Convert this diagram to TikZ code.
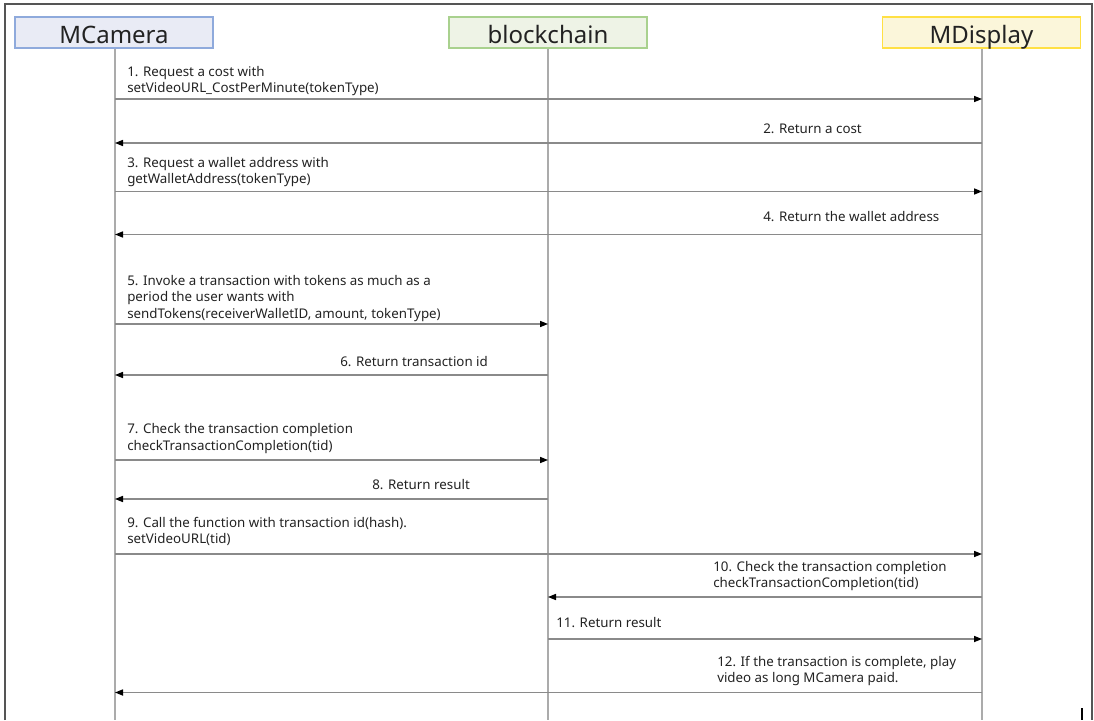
\documentclass[tikz,border=0pt]{standalone}
\usepackage{fontspec}
\setmainfont{Noto Sans}
\usetikzlibrary{arrows.meta}
\definecolor{txt}{HTML}{222222}
\definecolor{framegray}{HTML}{555555}
\definecolor{lifegray}{HTML}{ABABAB}
\definecolor{msggray}{HTML}{8A8A8A}
\definecolor{camfill}{HTML}{E9EBF5}
\definecolor{camline}{HTML}{8FAADC}
\definecolor{bcfill}{HTML}{EEF3E6}
\definecolor{bcline}{HTML}{A9D18E}
\definecolor{dispfill}{HTML}{FBF6DA}
\definecolor{displine}{HTML}{FFE044}
\begin{document}
\begin{tikzpicture}[x=0.75pt,y=-0.75pt,
  actor/.style={line width=1.1pt, minimum width=148.5pt, minimum height=23.25pt,
    inner sep=0pt, text height=17pt, text depth=1.2pt,
    font=\fontsize{18}{20}\selectfont, text=txt},
  life/.style={draw=lifegray, line width=1.1pt},
  msg/.style={draw=msggray, line width=0.9pt,
    -{Triangle[length=6pt,width=4.6pt,black]}},
  lbl/.style={font=\fontsize{10}{12.2}\selectfont, text=txt, inner sep=0pt,
    align=left, anchor=base west}]
\useasboundingbox (0,0) rectangle (1094,720);

% outer frame, open at the bottom
\draw[framegray, line width=1.2pt] (5,720) -- (5,4) -- (1092,4) -- (1092,720);
\draw[black, line width=0.8pt] (1082,708) -- (1082,720);

% participants
\node[actor, draw=camline, fill=camfill] (cam) at (114,32.5) {MCamera};
\node[actor, draw=bcline, fill=bcfill] (bc) at (548,32.5) {blockchain};
\node[actor, draw=displine, fill=dispfill] (disp) at (981.5,32.5) {MDisplay};

% lifelines
\coordinate (camEnd) at (115,720);
\coordinate (bcEnd) at (548,720);
\coordinate (dispEnd) at (982,720);
\draw[life] (cam.south -| camEnd) -- (camEnd);
\draw[life] (bc.south -| bcEnd) -- (bcEnd);
\draw[life] (disp.south -| dispEnd) -- (dispEnd);

% message end points on the lifelines
\coordinate (c1) at (115,99);    \coordinate (d1) at (982,99);
\coordinate (c2) at (115,143);   \coordinate (d2) at (982,143);
\coordinate (c3) at (115,191.5); \coordinate (d3) at (982,191.5);
\coordinate (c4) at (115,234.5); \coordinate (d4) at (982,234.5);
\coordinate (c5) at (115,324);   \coordinate (b5) at (548,324);
\coordinate (c6) at (115,375);   \coordinate (b6) at (548,375);
\coordinate (c7) at (115,460);   \coordinate (b7) at (548,460);
\coordinate (c8) at (115,499);   \coordinate (b8) at (548,499);
\coordinate (c9) at (115,554);   \coordinate (d9) at (982,554);
\coordinate (b10) at (548,597);  \coordinate (d10) at (982,597);
\coordinate (b11) at (548,639);  \coordinate (d11) at (982,639);
\coordinate (c12) at (115,692.5);\coordinate (d12) at (982,692.5);

% messages
\draw[msg] (c1) -- (d1);
\draw[msg] (d2) -- (c2);
\draw[msg] (c3) -- (d3);
\draw[msg] (d4) -- (c4);
\draw[msg] (c5) -- (b5);
\draw[msg] (b6) -- (c6);
\draw[msg] (c7) -- (b7);
\draw[msg] (b8) -- (c8);
\draw[msg] (c9) -- (d9);
\draw[msg] (d10) -- (b10);
\draw[msg] (b11) -- (d11);
\draw[msg] (d12) -- (c12);

% message labels (anchored at the baseline of their last line)
\node[lbl] (l1) at (127,92.5) {1. Request a cost with\\setVideoURL\_CostPerMinute(tokenType)};
\node[lbl] (l2) at (763,133.5) {2. Return a cost};
\node[lbl] (l3) at (127,184) {3. Request a wallet address with\\getWalletAddress(tokenType)};
\node[lbl] (l4) at (763,222) {4. Return the wallet address};
\node[lbl] (l5) at (127,318) {5. Invoke a transaction with tokens as much as a\\period the user wants with\\sendTokens(receiverWalletID, amount, tokenType)};
\node[lbl] (l6) at (340,366) {6. Return transaction id};
\node[lbl] (l7) at (127,450) {7. Check the transaction completion\\checkTransactionCompletion(tid)};
\node[lbl] (l8) at (372,489) {8. Return result};
\node[lbl] (l9) at (127,543.5) {9. Call the function with transaction id(hash).\\setVideoURL(tid)};
\node[lbl] (l10) at (713,587.5) {10. Check the transaction completion\\checkTransactionCompletion(tid)};
\node[lbl] (l11) at (556,627.5) {11. Return result};
\node[lbl] (l12) at (717,682.5) {12. If the transaction is complete, play\\video as long MCamera paid.};
\end{tikzpicture}
\end{document}
